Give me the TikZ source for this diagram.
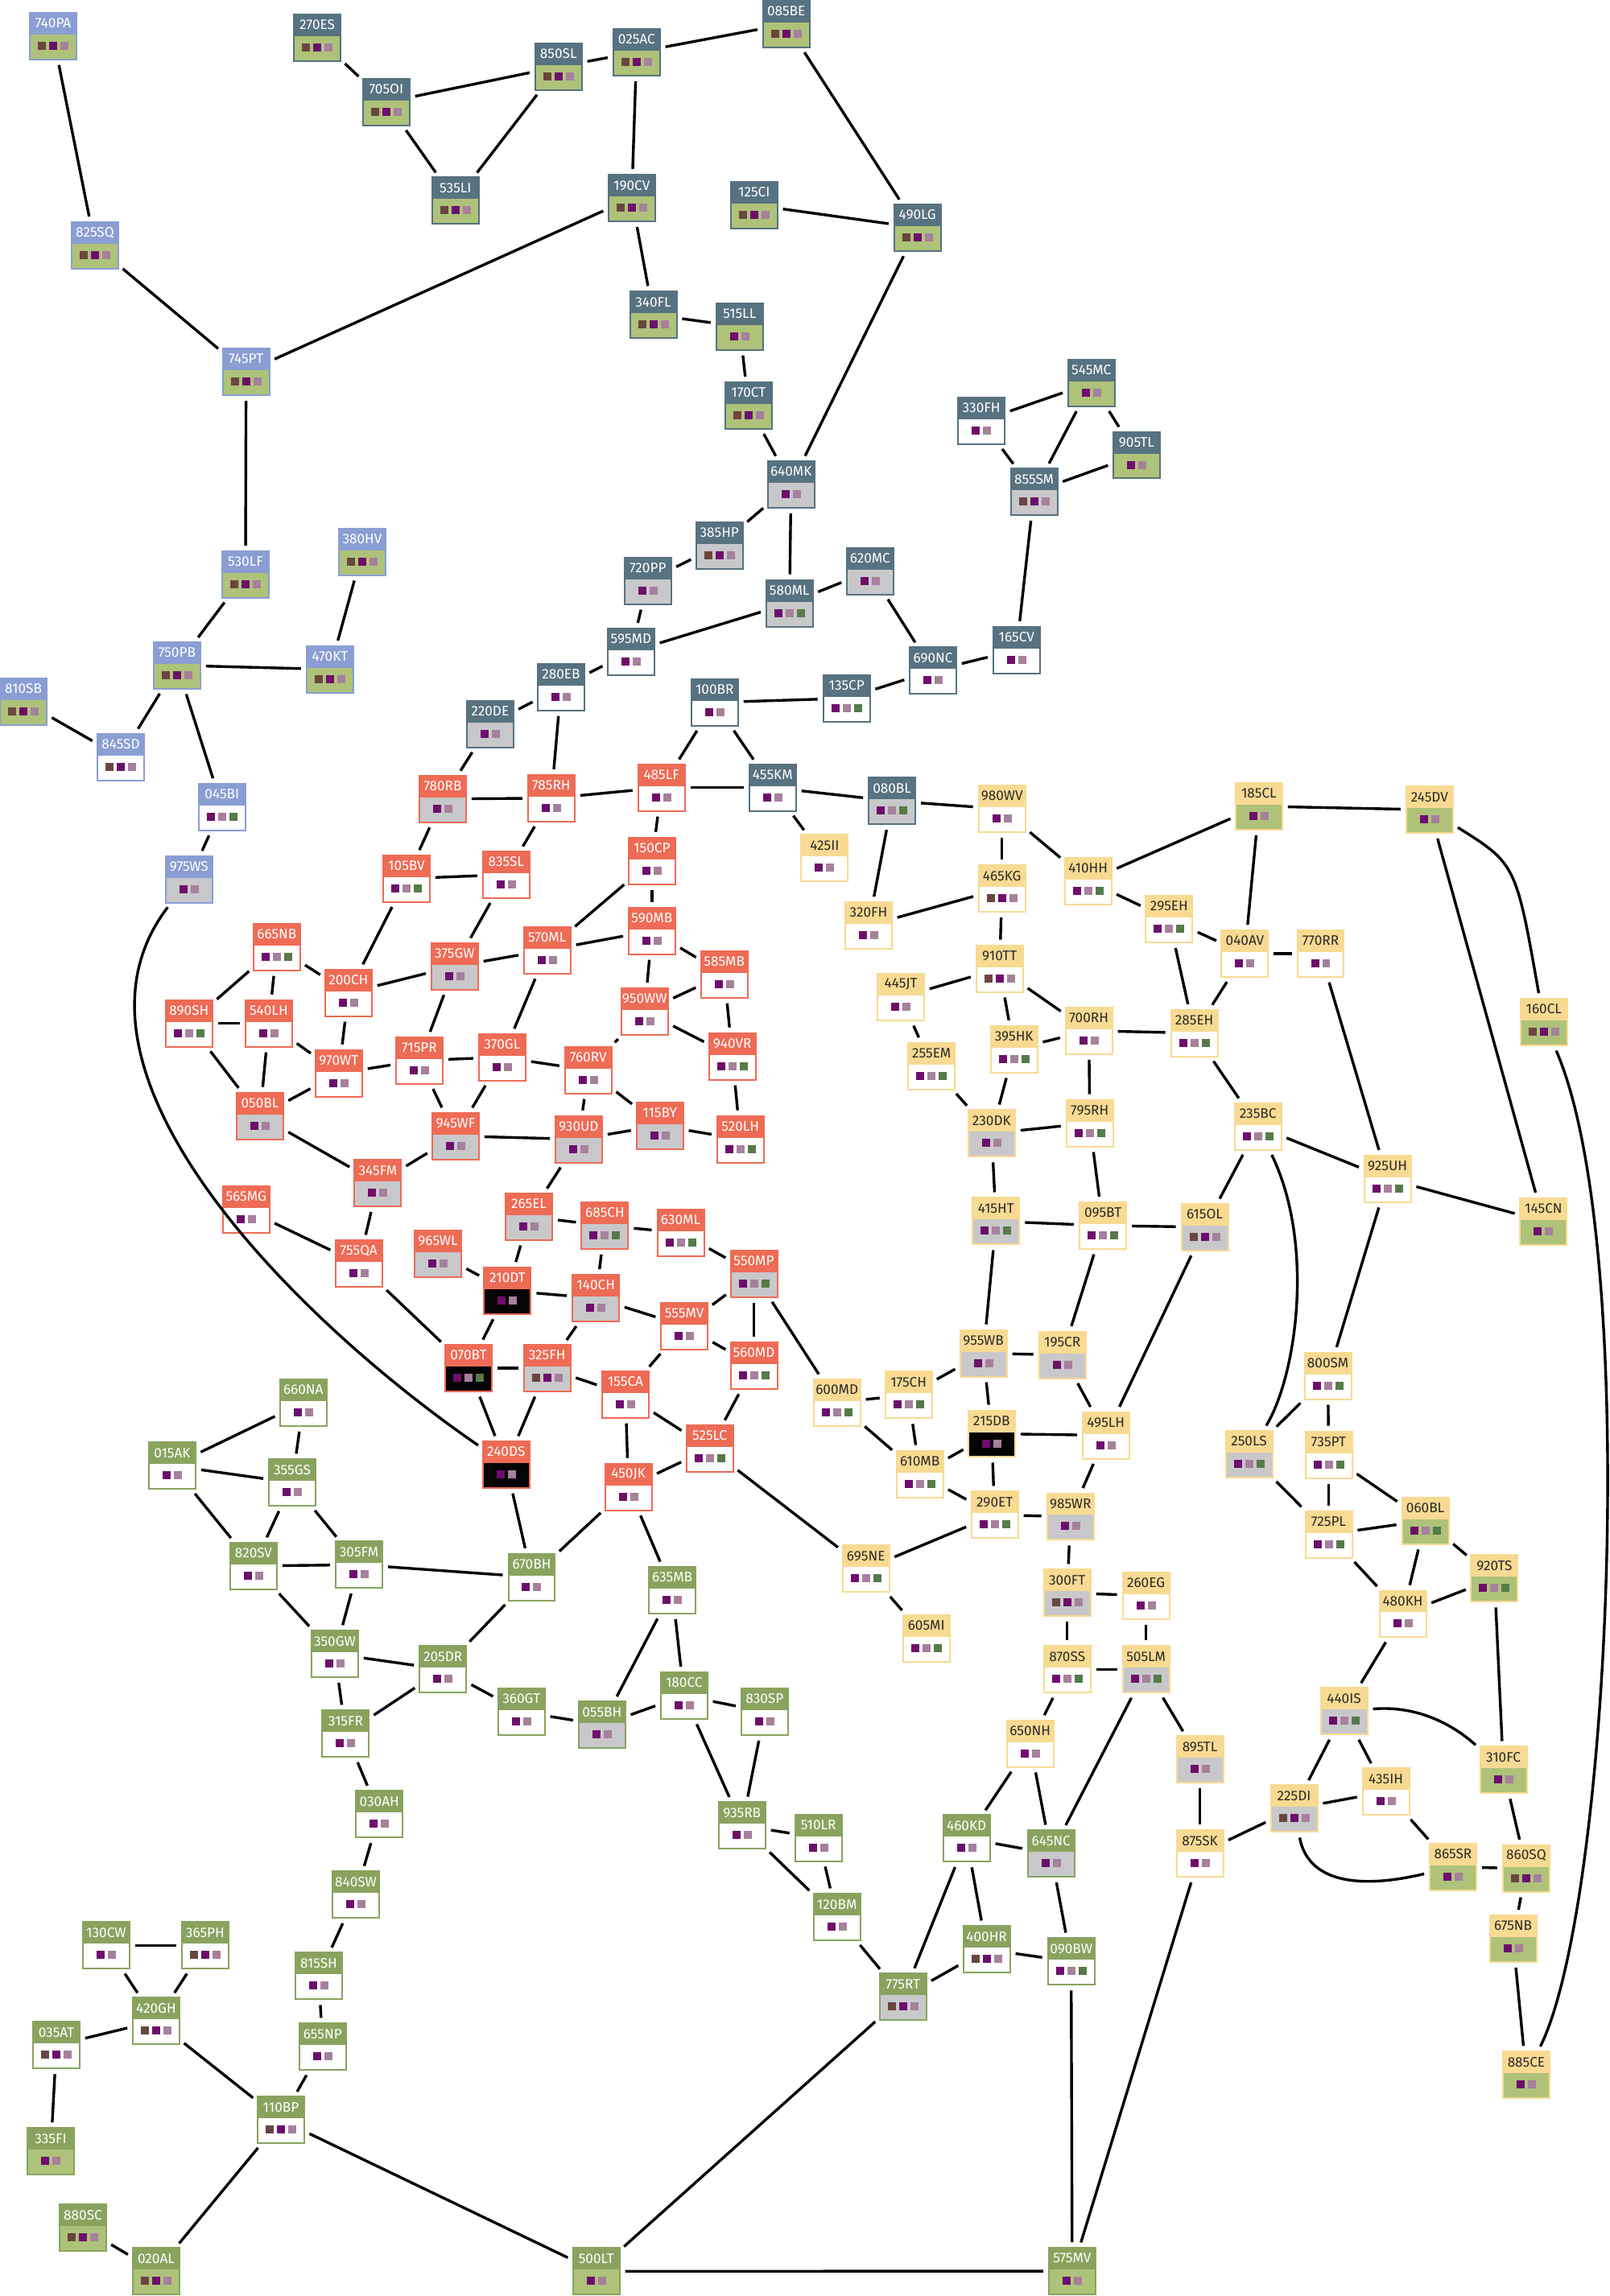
\documentclass[tikz,border=0pt]{standalone}
\usepackage{fontspec}
\setmainfont{Fira Sans}
\usetikzlibrary{calc}
\definecolor{hsl}{HTML}{577280}
\definecolor{hpe}{HTML}{8A9ED3}
\definecolor{hco}{HTML}{EE6B55}
\definecolor{hgr}{HTML}{89A35E}
\definecolor{hye}{HTML}{F8DA92}
\definecolor{tsl}{HTML}{FFFFFF}
\definecolor{tpe}{HTML}{FFFFFF}
\definecolor{tco}{HTML}{FFFFFF}
\definecolor{tgr}{HTML}{FFFFFF}
\definecolor{tye}{HTML}{2A2A2A}
\definecolor{bw}{HTML}{FFFFFF}
\definecolor{bg}{HTML}{C8C8CA}
\definecolor{bgr}{HTML}{AEC279}
\definecolor{bk}{HTML}{050505}
\definecolor{sb}{HTML}{6B4540}
\definecolor{sp}{HTML}{6E0E6C}
\definecolor{sm}{HTML}{A6809C}
\definecolor{sg}{HTML}{567A48}
\tikzset{
  box/.style={rectangle, minimum width=29pt, minimum height=29pt, inner sep=0pt, line width=1pt},
  lab/.style={font=\fontsize{8.6}{9}\selectfont, inner sep=0pt},
  edge/.style={line width=1.7pt, shorten <=3pt, shorten >=3pt},
}
\newcommand\ND[7]{%
  \node[box, draw=h#4, fill=#5, path picture={\fill[h#4] (path picture bounding box.north west) rectangle ([yshift=-13.5pt]path picture bounding box.north east);}] (n#1) at (#2,#3) {};
  \node[lab, text=t#4] (l#1) at ([yshift=-7pt]n#1.north) {#1};
  \foreach \c [count=\i] in {#7} {\fill[\c] ([xshift={(\i-(#6+1)/2)*7pt-2.5pt}, yshift=-23.5pt]n#1.north) rectangle ++(5pt,5pt);}
}
\begin{document}
\begin{tikzpicture}[x=0.91pt,y=-0.91pt]
\useasboundingbox (0,0) rectangle (1099,1568);
% slate
\ND{270ES}{216.6}{25.8}{sl}{bgr}{3}{sb,sp,sm}
\ND{705OI}{263.7}{69.8}{sl}{bgr}{3}{sb,sp,sm}
\ND{850SL}{381.3}{45.6}{sl}{bgr}{3}{sb,sp,sm}
\ND{025AC}{434.6}{35.7}{sl}{bgr}{3}{sb,sp,sm}
\ND{085BE}{536.8}{16.5}{sl}{bgr}{3}{sb,sp,sm}
\ND{535LI}{311}{137}{sl}{bgr}{3}{sb,sp,sm}
\ND{190CV}{431.3}{135.3}{sl}{bgr}{3}{sb,sp,sm}
\ND{125CI}{514.8}{140}{sl}{bgr}{3}{sb,sp,sm}
\ND{490LG}{626.4}{155.5}{sl}{bgr}{3}{sb,sp,sm}
\ND{340FL}{446}{215}{sl}{bgr}{3}{sb,sp,sm}
\ND{515LL}{505}{223}{sl}{bgr}{2}{sp,sm}
\ND{170CT}{511}{277}{sl}{bgr}{3}{sb,sp,sm}
\ND{640MK}{540.1}{330.8}{sl}{bg}{2}{sp,sm}
\ND{385HP}{491.2}{372.5}{sl}{bg}{3}{sb,sp,sm}
\ND{720PP}{442.3}{396.7}{sl}{bg}{2}{sp,sm}
\ND{580ML}{539}{412}{sl}{bg}{3}{sp,sm,sg}
\ND{620MC}{594}{390}{sl}{bg}{2}{sp,sm}
\ND{595MD}{430.8}{445.1}{sl}{bw}{2}{sp,sm}
\ND{330FH}{670}{287.5}{sl}{bw}{2}{sp,sm}
\ND{545MC}{745.1}{261.5}{sl}{bgr}{2}{sp,sm}
\ND{905TL}{776}{310.8}{sl}{bgr}{2}{sp,sm}
\ND{855SM}{706}{335.9}{sl}{bg}{3}{sb,sp,sm}
\ND{165CV}{694}{444}{sl}{bw}{2}{sp,sm}
\ND{690NC}{637}{458}{sl}{bw}{2}{sp,sm}
\ND{135CP}{578}{476.9}{sl}{bw}{3}{sp,sm,sg}
\ND{100BR}{487.9}{479.7}{sl}{bw}{2}{sp,sm}
\ND{280EB}{383}{469.2}{sl}{bw}{2}{sp,sm}
\ND{220DE}{334.6}{494.5}{sl}{bg}{2}{sp,sm}
\ND{455KM}{527.5}{537.9}{sl}{bw}{2}{sp,sm}
\ND{080BL}{609}{547}{sl}{bg}{3}{sp,sm,sg}
% periwinkle
\ND{740PA}{36.3}{24.7}{pe}{bgr}{3}{sb,sp,sm}
\ND{825SQ}{64.8}{167.6}{pe}{bgr}{3}{sb,sp,sm}
\ND{745PT}{168}{254}{pe}{bgr}{3}{sb,sp,sm}
\ND{530LF}{167.6}{392.3}{pe}{bgr}{3}{sb,sp,sm}
\ND{380HV}{247.3}{376.9}{pe}{bgr}{3}{sb,sp,sm}
\ND{750PB}{120.9}{454.4}{pe}{bgr}{3}{sb,sp,sm}
\ND{470KT}{225.3}{457.1}{pe}{bgr}{3}{sb,sp,sm}
\ND{810SB}{16}{479}{pe}{bgr}{3}{sb,sp,sm}
\ND{845SD}{82.4}{517}{pe}{bw}{3}{sb,sp,sm}
\ND{045BI}{151.6}{551.1}{pe}{bw}{3}{sp,sm,sg}
\ND{975WS}{129.1}{600.5}{pe}{bg}{2}{sp,sm}
% coral
\ND{780RB}{302.2}{545.6}{co}{bg}{2}{sp,sm}
\ND{785RH}{376.4}{545.1}{co}{bw}{2}{sp,sm}
\ND{485LF}{451.6}{537.9}{co}{bw}{2}{sp,sm}
\ND{150CP}{445.1}{587.9}{co}{bw}{2}{sp,sm}
\ND{105BV}{277.5}{600}{co}{bw}{3}{sp,sm,sg}
\ND{835SL}{345.6}{597.3}{co}{bw}{2}{sp,sm}
\ND{665NB}{189}{646.7}{co}{bw}{3}{sp,sm,sg}
\ND{375GW}{310.4}{659.9}{co}{bg}{2}{sp,sm}
\ND{570ML}{373.6}{648.9}{co}{bw}{2}{sp,sm}
\ND{590MB}{445.1}{635.7}{co}{bw}{2}{sp,sm}
\ND{585MB}{494.5}{665.4}{co}{bw}{2}{sp,sm}
\ND{200CH}{237.9}{678}{co}{bw}{2}{sp,sm}
\ND{890SH}{129.1}{698.9}{co}{bw}{3}{sp,sm,sg}
\ND{540LH}{183.5}{698.9}{co}{bw}{2}{sp,sm}
\ND{950WW}{440.1}{690.7}{co}{bw}{2}{sp,sm}
\ND{970WT}{231.3}{733}{co}{bw}{2}{sp,sm}
\ND{715PR}{286.3}{724.2}{co}{bw}{2}{sp,sm}
\ND{370GL}{342.9}{722}{co}{bw}{2}{sp,sm}
\ND{760RV}{401.6}{730.8}{co}{bw}{2}{sp,sm}
\ND{940VR}{500}{721.4}{co}{bw}{3}{sp,sm,sg}
\ND{050BL}{177.5}{762.1}{co}{bg}{2}{sp,sm}
\ND{945WF}{311}{775.8}{co}{bg}{2}{sp,sm}
\ND{930UD}{395.1}{778}{co}{bg}{2}{sp,sm}
\ND{115BY}{450.5}{768.7}{co}{bg}{2}{sp,sm}
\ND{520LH}{505.5}{778}{co}{bw}{3}{sp,sm,sg}
\ND{345FM}{258}{808}{co}{bg}{2}{sp,sm}
\ND{565MG}{168}{826}{co}{bw}{2}{sp,sm}
\ND{755QA}{245}{863}{co}{bw}{2}{sp,sm}
\ND{965WL}{299}{856}{co}{bg}{2}{sp,sm}
\ND{265EL}{361.1}{830.9}{co}{bg}{2}{sp,sm}
\ND{685CH}{413}{837}{co}{bg}{3}{sp,sm,sg}
\ND{630ML}{464.7}{841.8}{co}{bw}{3}{sp,sm,sg}
\ND{550MP}{514.7}{869.8}{co}{bg}{3}{sp,sm,sg}
\ND{210DT}{346.5}{881.5}{co}{bk}{2}{sp,sm}
\ND{140CH}{406.8}{886.5}{co}{bg}{2}{sp,sm}
\ND{555MV}{467.2}{905.5}{co}{bw}{2}{sp,sm}
\ND{070BT}{319.9}{934.3}{co}{bk}{3}{sp,sm,sg}
\ND{325FH}{373.5}{934.3}{co}{bg}{3}{sb,sp,sm}
\ND{560MD}{514.7}{932.7}{co}{bw}{3}{sp,sm,sg}
\ND{155CA}{427}{952.3}{co}{bw}{2}{sp,sm}
\ND{240DS}{345.6}{1000.2}{co}{bk}{2}{sp,sm}
\ND{525LC}{484.5}{989.3}{co}{bw}{3}{sp,sm,sg}
\ND{450JK}{429}{1015.5}{co}{bw}{2}{sp,sm}
% green
\ND{660NA}{207.1}{957.9}{gr}{bw}{2}{sp,sm}
\ND{015AK}{117.6}{1001}{gr}{bw}{2}{sp,sm}
\ND{355GS}{199.5}{1012.5}{gr}{bw}{2}{sp,sm}
\ND{820SV}{173.1}{1069.4}{gr}{bw}{2}{sp,sm}
\ND{305FM}{245.1}{1068.6}{gr}{bw}{2}{sp,sm}
\ND{670BH}{363}{1077}{gr}{bw}{2}{sp,sm}
\ND{635MB}{459}{1086}{gr}{bw}{2}{sp,sm}
\ND{350GW}{228.6}{1129.5}{gr}{bw}{2}{sp,sm}
\ND{205DR}{302.4}{1140}{gr}{bw}{2}{sp,sm}
\ND{360GT}{356}{1169}{gr}{bw}{2}{sp,sm}
\ND{055BH}{411}{1178}{gr}{bg}{2}{sp,sm}
\ND{180CC}{467}{1158}{gr}{bw}{2}{sp,sm}
\ND{830SP}{522}{1169}{gr}{bw}{2}{sp,sm}
\ND{315FR}{236}{1184}{gr}{bw}{2}{sp,sm}
\ND{030AH}{259}{1239}{gr}{bw}{2}{sp,sm}
\ND{840SW}{242.9}{1294}{gr}{bw}{2}{sp,sm}
\ND{935RB}{506.6}{1246.7}{gr}{bw}{2}{sp,sm}
\ND{510LR}{558.8}{1255}{gr}{bw}{2}{sp,sm}
\ND{120BM}{571.4}{1309.3}{gr}{bw}{2}{sp,sm}
\ND{460KD}{659.9}{1255.5}{gr}{bw}{2}{sp,sm}
\ND{645NC}{717.6}{1265.9}{gr}{bg}{2}{sp,sm}
\ND{400HR}{673.6}{1331.3}{gr}{bw}{3}{sb,sp,sm}
\ND{090BW}{731.3}{1339.6}{gr}{bw}{3}{sp,sm,sg}
\ND{775RT}{616.5}{1363.7}{gr}{bg}{3}{sb,sp,sm}
\ND{130CW}{72.5}{1328.6}{gr}{bw}{2}{sp,sm}
\ND{365PH}{140.1}{1328.6}{gr}{bw}{3}{sb,sp,sm}
\ND{420GH}{106.6}{1380.2}{gr}{bw}{3}{sb,sp,sm}
\ND{815SH}{217.6}{1349.5}{gr}{bw}{2}{sp,sm}
\ND{035AT}{38.5}{1396.7}{gr}{bw}{3}{sb,sp,sm}
\ND{655NP}{220.3}{1397.8}{gr}{bw}{2}{sp,sm}
\ND{110BP}{191.8}{1447.8}{gr}{bw}{3}{sb,sp,sm}
\ND{335FI}{34.6}{1469.2}{gr}{bgr}{2}{sp,sm}
\ND{880SC}{56.6}{1521.4}{gr}{bgr}{3}{sb,sp,sm}
\ND{020AL}{106.6}{1551.1}{gr}{bgr}{3}{sb,sp,sm}
\ND{500LT}{407.1}{1551.1}{gr}{bgr}{2}{sp,sm}
\ND{575MV}{732}{1551}{gr}{bgr}{2}{sp,sm}
% yellow
\ND{980WV}{684.1}{552.4}{ye}{bw}{2}{sp,sm}
\ND{185CL}{859.5}{550.6}{ye}{bgr}{2}{sp,sm}
\ND{245DV}{976}{553}{ye}{bgr}{2}{sp,sm}
\ND{425II}{563}{586}{ye}{bw}{2}{sp,sm}
\ND{410HH}{742.9}{601.6}{ye}{bw}{3}{sp,sm,sg}
\ND{465KG}{684.1}{606.8}{ye}{bw}{3}{sb,sp,sm}
\ND{295EH}{798.2}{627.7}{ye}{bw}{3}{sp,sm,sg}
\ND{320FH}{593}{632}{ye}{bw}{2}{sp,sm}
\ND{040AV}{849.9}{651.3}{ye}{bw}{2}{sp,sm}
\ND{770RR}{901.6}{651.3}{ye}{bw}{2}{sp,sm}
\ND{910TT}{682.4}{661.5}{ye}{bw}{3}{sb,sp,sm}
\ND{445JT}{615}{681}{ye}{bw}{2}{sp,sm}
\ND{700RH}{743.4}{703.9}{ye}{bw}{2}{sp,sm}
\ND{160CL}{1054}{698}{ye}{bgr}{3}{sb,sp,sm}
\ND{285EH}{815.4}{705.5}{ye}{bw}{3}{sp,sm,sg}
\ND{395HK}{692.3}{716.5}{ye}{bw}{3}{sp,sm,sg}
\ND{255EM}{636}{728}{ye}{bw}{3}{sp,sm,sg}
\ND{230DK}{677}{774}{ye}{bg}{2}{sp,sm}
\ND{795RH}{744}{767}{ye}{bw}{3}{sp,sm,sg}
\ND{235BC}{858.8}{769.2}{ye}{bw}{3}{sp,sm,sg}
\ND{925UH}{947.3}{805}{ye}{bw}{3}{sp,sm,sg}
\ND{415HT}{680}{834}{ye}{bg}{3}{sp,sm,sg}
\ND{095BT}{753}{837}{ye}{bw}{3}{sp,sm,sg}
\ND{615OL}{822.5}{838}{ye}{bg}{3}{sb,sp,sm}
\ND{145CN}{1053.8}{834.1}{ye}{bgr}{2}{sp,sm}
\ND{955WB}{671.4}{924.2}{ye}{bg}{2}{sp,sm}
\ND{195CR}{725.3}{925.3}{ye}{bg}{2}{sp,sm}
\ND{175CH}{620.3}{952.7}{ye}{bw}{3}{sp,sm,sg}
\ND{800SM}{906.6}{939.6}{ye}{bw}{3}{sp,sm,sg}
\ND{600MD}{571.4}{957.7}{ye}{bw}{3}{sp,sm,sg}
\ND{215DB}{677}{979.1}{ye}{bk}{2}{sp,sm}
\ND{495LH}{755}{980.2}{ye}{bw}{2}{sp,sm}
\ND{250LS}{852.7}{992.9}{ye}{bg}{3}{sp,sm,sg}
\ND{735PT}{907.1}{993.4}{ye}{bw}{3}{sp,sm,sg}
\ND{610MB}{628}{1006.6}{ye}{bw}{3}{sp,sm,sg}
\ND{060BL}{973.1}{1038.5}{ye}{bgr}{3}{sp,sm,sg}
\ND{290ET}{679.1}{1034.6}{ye}{bw}{3}{sp,sm,sg}
\ND{985WR}{730.8}{1035.7}{ye}{bg}{2}{sp,sm}
\ND{725PL}{907.1}{1047.8}{ye}{bw}{3}{sp,sm,sg}
\ND{695NE}{591.2}{1071.4}{ye}{bw}{3}{sp,sm,sg}
\ND{920TS}{1020.3}{1078}{ye}{bgr}{3}{sp,sm,sg}
\ND{300FT}{728.6}{1087.9}{ye}{bg}{3}{sb,sp,sm}
\ND{260EG}{782.4}{1089.6}{ye}{bw}{2}{sp,sm}
\ND{480KH}{957.7}{1102.2}{ye}{bw}{2}{sp,sm}
\ND{605MI}{632.4}{1118.7}{ye}{bw}{3}{sp,sm,sg}
\ND{870SS}{728.6}{1140.1}{ye}{bw}{3}{sp,sm,sg}
\ND{505LM}{782.4}{1140.1}{ye}{bg}{3}{sp,sm,sg}
\ND{440IS}{917.6}{1168.7}{ye}{bg}{3}{sp,sm,sg}
\ND{650NH}{703.3}{1190.7}{ye}{bw}{2}{sp,sm}
\ND{435IH}{946.2}{1223.6}{ye}{bw}{2}{sp,sm}
\ND{895TL}{819.2}{1201.6}{ye}{bg}{2}{sp,sm}
\ND{310FC}{1026.4}{1208.8}{ye}{bgr}{2}{sp,sm}
\ND{225DI}{883.5}{1235.2}{ye}{bg}{3}{sb,sp,sm}
\ND{875SK}{819.2}{1265.9}{ye}{bw}{2}{sp,sm}
\ND{865SR}{992}{1275}{ye}{bgr}{2}{sp,sm}
\ND{860SQ}{1042}{1276}{ye}{bgr}{3}{sb,sp,sm}
\ND{675NB}{1033}{1324}{ye}{bgr}{2}{sp,sm}
\ND{885CE}{1042}{1417}{ye}{bgr}{2}{sp,sm}
% edges
\foreach \a/\b in {740PA/825SQ, 825SQ/745PT, 745PT/190CV, 745PT/530LF, 530LF/750PB, 750PB/470KT, 380HV/470KT, 750PB/845SD, 810SB/845SD, 750PB/045BI, 045BI/975WS,
 270ES/705OI, 705OI/850SL, 705OI/535LI, 535LI/850SL, 850SL/025AC, 025AC/085BE, 025AC/190CV, 085BE/490LG, 125CI/490LG, 490LG/640MK, 190CV/340FL, 340FL/515LL, 515LL/170CT, 170CT/640MK, 640MK/385HP, 640MK/580ML, 385HP/720PP, 720PP/595MD, 595MD/580ML, 580ML/620MC, 620MC/690NC, 690NC/135CP, 690NC/165CV, 165CV/855SM, 855SM/330FH, 855SM/545MC, 855SM/905TL, 330FH/545MC, 545MC/905TL, 595MD/280EB, 280EB/220DE, 220DE/780RB, 280EB/785RH, 100BR/135CP, 100BR/455KM, 100BR/485LF, 455KM/080BL, 455KM/485LF, 455KM/425II, 080BL/320FH, 080BL/980WV}
 \draw[edge] (n\a) -- (n\b);
\foreach \a/\b in {785RH/780RB, 785RH/485LF, 785RH/835SL, 780RB/105BV, 105BV/835SL, 105BV/200CH, 485LF/150CP, 150CP/570ML, 150CP/590MB, 835SL/375GW, 375GW/570ML, 375GW/200CH, 375GW/715PR, 570ML/590MB, 570ML/370GL, 590MB/585MB, 590MB/950WW, 585MB/950WW, 585MB/940VR, 950WW/760RV, 950WW/940VR, 665NB/890SH, 665NB/540LH, 665NB/200CH, 200CH/970WT, 890SH/540LH, 890SH/050BL, 540LH/050BL, 540LH/970WT, 050BL/970WT, 970WT/715PR, 715PR/370GL, 715PR/945WF, 370GL/945WF, 370GL/760RV, 760RV/930UD, 760RV/115BY, 940VR/520LH, 115BY/520LH, 930UD/115BY, 945WF/930UD, 050BL/345FM, 945WF/345FM, 930UD/265EL, 345FM/755QA, 565MG/755QA, 755QA/070BT, 965WL/210DT, 265EL/210DT, 265EL/685CH, 685CH/630ML, 685CH/140CH, 630ML/550MP, 210DT/140CH, 210DT/070BT, 140CH/555MV, 140CH/325FH, 550MP/555MV, 550MP/560MD, 550MP/600MD, 555MV/155CA, 555MV/560MD, 560MD/525LC, 070BT/325FH, 070BT/240DS, 325FH/240DS, 325FH/155CA, 155CA/450JK, 155CA/525LC, 525LC/450JK, 525LC/695NE, 240DS/670BH, 450JK/670BH, 450JK/635MB}
 \draw[edge] (n\a) -- (n\b);
\foreach \a/\b in {660NA/015AK, 660NA/355GS, 015AK/355GS, 015AK/820SV, 355GS/820SV, 355GS/305FM, 820SV/305FM, 820SV/350GW, 305FM/350GW, 305FM/670BH, 670BH/205DR, 350GW/205DR, 350GW/315FR, 205DR/315FR, 205DR/360GT, 360GT/055BH, 315FR/030AH, 030AH/840SW, 840SW/815SH, 815SH/655NP, 655NP/110BP, 635MB/055BH, 635MB/180CC, 055BH/180CC, 180CC/830SP, 180CC/935RB, 830SP/935RB, 935RB/510LR, 935RB/120BM, 510LR/120BM, 120BM/775RT, 460KD/645NC, 460KD/400HR, 460KD/775RT, 460KD/650NH, 650NH/645NC, 645NC/505LM, 645NC/090BW, 400HR/775RT, 400HR/090BW, 090BW/575MV, 775RT/500LT, 500LT/575MV, 500LT/110BP, 110BP/020AL, 110BP/420GH, 420GH/130CW, 420GH/365PH, 130CW/365PH, 420GH/035AT, 035AT/335FI, 880SC/020AL, 575MV/875SK}
 \draw[edge] (n\a) -- (n\b);
\foreach \a/\b in {980WV/465KG, 980WV/410HH, 410HH/185CL, 410HH/295EH, 185CL/245DV, 185CL/040AV, 245DV/145CN, 295EH/040AV, 295EH/285EH, 040AV/770RR, 040AV/285EH, 770RR/925UH, 465KG/320FH, 465KG/910TT, 910TT/445JT, 910TT/700RH, 910TT/395HK, 445JT/255EM, 700RH/285EH, 700RH/395HK, 700RH/795RH, 395HK/230DK, 255EM/230DK, 230DK/795RH, 230DK/415HT, 285EH/235BC, 235BC/925UH, 235BC/615OL, 925UH/145CN, 925UH/800SM, 795RH/095BT, 415HT/095BT, 415HT/955WB, 095BT/615OL, 095BT/195CR, 615OL/495LH, 955WB/195CR, 955WB/175CH, 955WB/215DB, 195CR/495LH, 175CH/600MD, 175CH/610MB, 600MD/610MB, 215DB/495LH, 215DB/610MB, 215DB/290ET, 495LH/985WR, 610MB/290ET, 290ET/985WR, 290ET/695NE, 985WR/300FT, 695NE/605MI, 300FT/870SS, 300FT/260EG, 260EG/505LM, 870SS/505LM, 870SS/650NH, 505LM/895TL, 895TL/875SK, 875SK/225DI, 800SM/735PT, 800SM/250LS, 735PT/725PL, 735PT/060BL, 250LS/725PL, 725PL/060BL, 725PL/480KH, 060BL/480KH, 060BL/920TS, 480KH/920TS, 480KH/440IS, 920TS/310FC, 440IS/225DI, 440IS/435IH, 225DI/435IH, 435IH/865SR, 865SR/860SQ, 310FC/860SQ, 860SQ/675NB, 675NB/885CE}
 \draw[edge] (n\a) -- (n\b);
% curves
\draw[edge] (n975WS) .. controls (30,730) and (200,900) .. (n240DS);
\draw[edge] (n245DV) .. controls (1035,590) .. (n160CL);
\draw[edge] (n160CL) .. controls (1120,850) and (1100,1300) .. (n885CE);
\draw[edge] (n235BC) .. controls (898,850) and (885,940) .. (n250LS);
\draw[edge] (n440IS) .. controls (975,1164) and (1000,1185) .. (n310FC);
\draw[edge] (n225DI) .. controls (895,1295) and (950,1285) .. (n865SR);
\end{tikzpicture}
\end{document}
